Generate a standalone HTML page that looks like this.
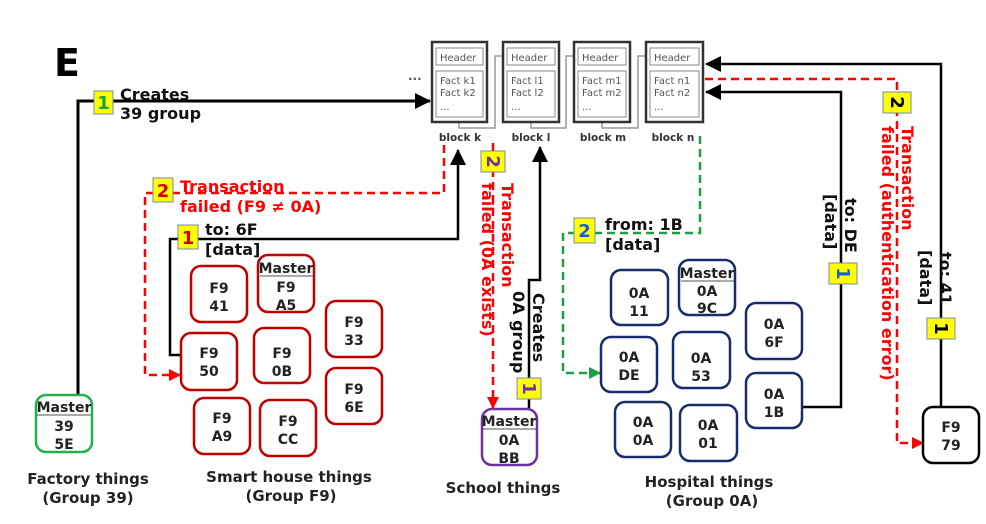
<!DOCTYPE html>
<html><head><meta charset="utf-8"><style>
html,body{margin:0;padding:0;background:#fff;}
svg{display:block;}
text{font-family:"DejaVu Sans","Liberation Sans",sans-serif;font-weight:bold;}
.n{fill:#fff;stroke-width:2.5;}
.nt{font-size:14px;fill:#222;text-anchor:middle;}
.lbl{font-size:15px;fill:#222;text-anchor:middle;}
.bt{font-size:10px;fill:#555;font-weight:normal;}
.bl{font-size:10.5px;fill:#333;text-anchor:middle;}
.badge{fill:#ffff00;stroke:#7788aa;stroke-width:1;}
.bd{font-size:18px;text-anchor:middle;}
.tx{font-size:16px;fill:#111;}
.rt{font-size:16px;fill:#ff0000;}
</style></head><body>
<svg width="986" height="524" viewBox="0 0 986 524" xmlns="http://www.w3.org/2000/svg">
<defs>
<marker id="ar" markerWidth="12" markerHeight="12" refX="11" refY="6" orient="auto" markerUnits="userSpaceOnUse"><path d="M0,0 L12,6 L0,12 z" fill="#f00"/></marker>
<marker id="ag" markerWidth="12" markerHeight="12" refX="11" refY="6" orient="auto" markerUnits="userSpaceOnUse"><path d="M0,0 L12,6 L0,12 z" fill="#1aa040"/></marker>
<marker id="ab2" markerWidth="16" markerHeight="16" refX="15" refY="8" orient="auto" markerUnits="userSpaceOnUse"><path d="M0,0 L16,8 L0,16 z" fill="#000"/></marker>
</defs>

<text x="54" y="76" style="font-size:38px;fill:#000">E</text>

<g>
<text x="408" y="83" style="font-size:12px;fill:#555">···</text>
<path d="M459,120 V128 H495 V56 H503" stroke="#999" stroke-width="1.5" fill="none"/>
<path d="M531,120 V128 H566 V56 H574" stroke="#999" stroke-width="1.5" fill="none"/>
<path d="M602,120 V128 H638 V56 H646" stroke="#999" stroke-width="1.5" fill="none"/>
<rect x="432" y="42" width="55" height="80" fill="#fff" stroke="#333" stroke-width="2.5"/>
<rect x="436" y="48" width="47" height="17" fill="#fff" stroke="#888" stroke-width="1"/>
<rect x="436" y="71" width="47" height="46" fill="#fff" stroke="#888" stroke-width="1"/>
<text x="440" y="61" class="bt">Header</text>
<text x="440" y="84" class="bt">Fact k1</text><text x="440" y="96" class="bt">Fact k2</text><text x="440" y="110" class="bt">...</text>

<rect x="503" y="42" width="56" height="80" fill="#fff" stroke="#333" stroke-width="2.5"/>
<rect x="507" y="48" width="48" height="17" fill="#fff" stroke="#888" stroke-width="1"/>
<rect x="507" y="71" width="48" height="46" fill="#fff" stroke="#888" stroke-width="1"/>
<text x="511" y="61" class="bt">Header</text>
<text x="511" y="84" class="bt">Fact l1</text><text x="511" y="96" class="bt">Fact l2</text><text x="511" y="110" class="bt">...</text>

<rect x="574" y="42" width="56" height="80" fill="#fff" stroke="#333" stroke-width="2.5"/>
<rect x="578" y="48" width="48" height="17" fill="#fff" stroke="#888" stroke-width="1"/>
<rect x="578" y="71" width="48" height="46" fill="#fff" stroke="#888" stroke-width="1"/>
<text x="582" y="61" class="bt">Header</text>
<text x="582" y="84" class="bt">Fact m1</text><text x="582" y="96" class="bt">Fact m2</text><text x="582" y="110" class="bt">...</text>

<rect x="646" y="42" width="57" height="80" fill="#fff" stroke="#333" stroke-width="2.5"/>
<rect x="650" y="48" width="49" height="17" fill="#fff" stroke="#888" stroke-width="1"/>
<rect x="650" y="71" width="49" height="46" fill="#fff" stroke="#888" stroke-width="1"/>
<text x="654" y="61" class="bt">Header</text>
<text x="654" y="84" class="bt">Fact n1</text><text x="654" y="96" class="bt">Fact n2</text><text x="654" y="110" class="bt">...</text>
<text x="460" y="141" class="bl">block k</text>
<text x="531" y="141" class="bl">block l</text>
<text x="603" y="141" class="bl">block m</text>
<text x="673" y="141" class="bl">block n</text>
</g>

<path d="M78,396 V101 H430" stroke="#000" stroke-width="3" fill="none" marker-end="url(#ab2)"/>
<path d="M181,355 H170 V239 H458 V150" stroke="#000" stroke-width="2.5" fill="none" marker-end="url(#ab2)"/>
<path d="M444,145 V193 H145 V375 H180" stroke="#f00" stroke-width="2.5" stroke-dasharray="8,5" fill="none" marker-end="url(#ar)"/>
<path d="M493,143 V408" stroke="#f00" stroke-width="2.5" stroke-dasharray="8,5" fill="none" marker-end="url(#ar)"/>
<path d="M529,409 V280 H540 V147" stroke="#000" stroke-width="2.5" fill="none" marker-end="url(#ab2)"/>
<path d="M700,136 V233 H563 V373 H600" stroke="#1aa040" stroke-width="2.5" stroke-dasharray="8,5" fill="none" marker-end="url(#ag)"/>
<path d="M802,407 H841 V92 H706" stroke="#000" stroke-width="2.5" fill="none" marker-end="url(#ab2)"/>
<path d="M941,407 V64 H706" stroke="#000" stroke-width="2.5" fill="none" marker-end="url(#ab2)"/>
<path d="M705,79 H897 V443 H923" stroke="#f00" stroke-width="2.5" stroke-dasharray="8,5" fill="none" marker-end="url(#ar)"/>

<rect x="94" y="91" width="19" height="23" class="badge"/><text x="103.5" y="109" class="bd" fill="#1aa040">1</text>
<text x="120" y="100" class="tx">Creates</text><text x="120" y="119" class="tx">39 group</text>

<rect x="153" y="178" width="20" height="24" class="badge"/><text x="163" y="197" class="bd" fill="#d00000">2</text>
<text x="180" y="192" class="rt">Transaction</text><text x="180" y="212" class="rt">failed (F9 ≠ 0A)</text>

<rect x="178" y="225" width="20" height="24" class="badge"/><text x="188" y="244" class="bd" fill="#d00000">1</text>
<text x="205" y="235" class="tx">to: 6F</text><text x="205" y="255" class="tx">[data]</text>

<rect x="481" y="151" width="24" height="21" class="badge"/><text transform="translate(493,161.5) rotate(90)" y="6" class="bd" fill="#7030a0">2</text>
<text transform="translate(502,183) rotate(90)" class="rt">Transaction</text>
<text transform="translate(482,183) rotate(90)" class="rt">failed (0A exists)</text>

<text transform="translate(533,293) rotate(90)" class="tx">Creates</text>
<text transform="translate(513,291) rotate(90)" class="tx">0A group</text>
<rect x="517" y="378" width="24" height="21" class="badge"/><text transform="translate(529,388.5) rotate(90)" y="6" class="bd" fill="#7030a0">1</text>

<rect x="574" y="218" width="21" height="25" class="badge"/><text x="584.5" y="237" class="bd" fill="#1060d0">2</text>
<text x="605" y="230" class="tx">from: 1B</text><text x="605" y="250" class="tx">[data]</text>

<text transform="translate(845,198) rotate(90)" class="tx">to: DE</text>
<text transform="translate(825,194) rotate(90)" class="tx">[data]</text>
<rect x="829" y="263" width="28" height="21" class="badge"/><text transform="translate(843,273.5) rotate(90)" y="6" class="bd" fill="#1060d0">1</text>

<rect x="883" y="92" width="28" height="21" class="badge"/><text transform="translate(897,102.5) rotate(90)" y="6" class="bd" fill="#000">2</text>
<text transform="translate(902,126) rotate(90)" class="rt">Transaction</text>
<text transform="translate(882,126) rotate(90)" class="rt">failed (authentication error)</text>

<text transform="translate(940,252) rotate(90)" class="tx">to: 41</text>
<text transform="translate(920,250) rotate(90)" class="tx">[data]</text>
<rect x="927" y="318" width="28" height="21" class="badge"/><text transform="translate(941,328.5) rotate(90)" y="6" class="bd" fill="#000">1</text>

<rect x="36" y="395" width="56" height="57" rx="10" class="n" stroke="#22b04a"/>
<text x="64" y="412" class="nt">Master</text>
<line x1="37" y1="415" x2="91" y2="415" stroke="#555" stroke-width="1"/>
<text x="64" y="431" class="nt">39</text><text x="64" y="449" class="nt">5E</text>
<text x="88" y="484" class="lbl">Factory things</text><text x="88" y="503" class="lbl">(Group 39)</text>

<g stroke="#c00000">
<rect x="191" y="266" width="56" height="56" rx="10" class="n"/>
<rect x="258" y="255" width="56" height="57" rx="10" class="n"/>
<rect x="326" y="301" width="56" height="56" rx="10" class="n"/>
<rect x="181" y="333" width="56" height="57" rx="10" class="n"/>
<rect x="254" y="328" width="56" height="55" rx="10" class="n"/>
<rect x="326" y="368" width="56" height="56" rx="10" class="n"/>
<rect x="194" y="398" width="56" height="56" rx="10" class="n"/>
<rect x="260" y="400" width="56" height="56" rx="10" class="n"/>
</g>
<text x="219" y="293" class="nt">F9</text><text x="219" y="311" class="nt">41</text>
<text x="286" y="273" class="nt">Master</text><line x1="260" y1="276" x2="314" y2="276" stroke="#555" stroke-width="1"/>
<text x="286" y="292" class="nt">F9</text><text x="286" y="310" class="nt">A5</text>
<text x="354" y="327" class="nt">F9</text><text x="354" y="345" class="nt">33</text>
<text x="209" y="358" class="nt">F9</text><text x="209" y="376" class="nt">50</text>
<text x="282" y="358" class="nt">F9</text><text x="282" y="376" class="nt">0B</text>
<text x="354" y="394" class="nt">F9</text><text x="354" y="412" class="nt">6E</text>
<text x="222" y="423" class="nt">F9</text><text x="222" y="441" class="nt">A9</text>
<text x="288" y="426" class="nt">F9</text><text x="288" y="444" class="nt">CC</text>
<text x="289" y="482" class="lbl">Smart house things</text><text x="291" y="501" class="lbl">(Group F9)</text>

<rect x="482" y="409" width="55" height="56" rx="10" class="n" stroke="#7030a0"/>
<text x="509" y="426" class="nt">Master</text><line x1="483" y1="429" x2="536" y2="429" stroke="#555" stroke-width="1"/>
<text x="509" y="445" class="nt">0A</text><text x="509" y="463" class="nt">BB</text>
<text x="503" y="493" class="lbl">School things</text>

<g stroke="#1a2a6c">
<rect x="611" y="270" width="57" height="55" rx="10" class="n"/>
<rect x="679" y="260" width="56" height="55" rx="10" class="n"/>
<rect x="746" y="303" width="56" height="56" rx="10" class="n"/>
<rect x="601" y="337" width="56" height="55" rx="10" class="n"/>
<rect x="673" y="332" width="57" height="56" rx="10" class="n"/>
<rect x="746" y="373" width="56" height="55" rx="10" class="n"/>
<rect x="615" y="402" width="56" height="55" rx="10" class="n"/>
<rect x="680" y="405" width="57" height="56" rx="10" class="n"/>
</g>
<text x="639" y="298" class="nt">0A</text><text x="639" y="316" class="nt">11</text>
<text x="707" y="278" class="nt">Master</text><line x1="681" y1="281" x2="734" y2="281" stroke="#555" stroke-width="1"/>
<text x="707" y="296" class="nt">0A</text><text x="707" y="313" class="nt">9C</text>
<text x="774" y="329" class="nt">0A</text><text x="774" y="347" class="nt">6F</text>
<text x="629" y="362" class="nt">0A</text><text x="629" y="380" class="nt">DE</text>
<text x="701" y="363" class="nt">0A</text><text x="701" y="381" class="nt">53</text>
<text x="774" y="399" class="nt">0A</text><text x="774" y="417" class="nt">1B</text>
<text x="643" y="427" class="nt">0A</text><text x="643" y="445" class="nt">0A</text>
<text x="708" y="430" class="nt">0A</text><text x="708" y="448" class="nt">01</text>
<text x="709" y="487" class="lbl">Hospital things</text><text x="712" y="506" class="lbl">(Group 0A)</text>

<rect x="923" y="407" width="56" height="56" rx="10" class="n" stroke="#000"/>
<text x="951" y="432" class="nt">F9</text><text x="951" y="450" class="nt">79</text>
</svg>
</body></html>
